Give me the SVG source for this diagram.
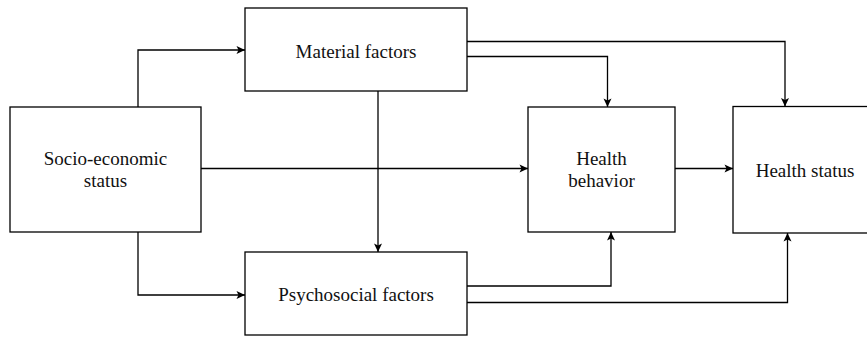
<svg xmlns="http://www.w3.org/2000/svg" width="867" height="338" viewBox="0 0 867 338">
<defs>
<style>
.box{fill:#fff;stroke:#000;stroke-width:1.3}
.lbl{font-family:"Liberation Serif","Times New Roman",serif;font-size:19px;fill:#111;text-anchor:middle}
.edge{fill:none;stroke:#000;stroke-width:1.3}
</style>
<marker id="ah" markerUnits="userSpaceOnUse" markerWidth="12" markerHeight="12" viewBox="0 0 12 12" refX="9.5" refY="6" orient="auto">
<path d="M1,2 L9.5,6 L1,10 L3,6 Z" fill="#000"/>
</marker>
</defs>
<rect width="867" height="338" fill="#fff"/>
<g id="connectors">
<path class="edge" d="M138,107 V50 H245" marker-end="url(#ah)"/>
<path class="edge" d="M138,232 V295 H245" marker-end="url(#ah)"/>
<path class="edge" d="M201,168.5 H528" marker-end="url(#ah)"/>
<path class="edge" d="M378,91 V252" marker-end="url(#ah)"/>
<path class="edge" d="M467,41.5 H785 V106.5" marker-end="url(#ah)"/>
<path class="edge" d="M467,56.5 H607.5 V107" marker-end="url(#ah)"/>
<path class="edge" d="M675,168.5 H733" marker-end="url(#ah)"/>
<path class="edge" d="M467,286 H611 V232" marker-end="url(#ah)"/>
<path class="edge" d="M467,302.5 H787.5 V233" marker-end="url(#ah)"/>
</g>
<g id="material">
<rect class="box" x="245" y="8" width="222" height="83"/>
<text class="lbl" x="356" y="57.5">Material factors</text>
</g>
<g id="socio">
<rect class="box" x="10" y="107" width="191" height="125"/>
<text class="lbl" x="105.5" y="165">Socio-economic</text>
<text class="lbl" x="105.5" y="187">status</text>
</g>
<g id="psychosocial">
<rect class="box" x="245" y="252" width="222" height="83"/>
<text class="lbl" x="356" y="300.5">Psychosocial factors</text>
</g>
<g id="behavior">
<rect class="box" x="528" y="107" width="147" height="125"/>
<text class="lbl" x="601.5" y="165">Health</text>
<text class="lbl" x="601.5" y="187">behavior</text>
</g>
<g id="status">
<rect class="box" x="733" y="106.5" width="150" height="126.5"/>
<text class="lbl" x="805" y="177">Health status</text>
</g>
</svg>
